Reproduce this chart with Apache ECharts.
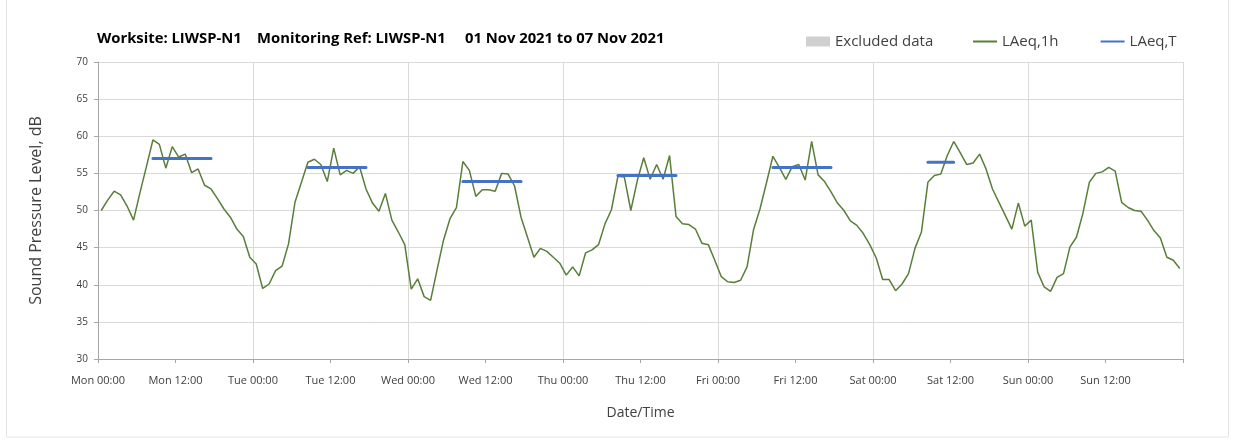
<!DOCTYPE html>
<html>
<head>
<meta charset="utf-8">
<script src="https://cdn.jsdelivr.net/npm/echarts@6/dist/echarts.min.js"></script>
<style>
  html, body { margin: 0; padding: 0; background: #fff; }
  #chart { width: 1234px; height: 441px; }
</style>
</head>
<body>
<div id="chart"></div>
<script>
// hourly LAeq,1h readings, Mon 00:00 .. Sun 23:00 (one per hour, plotted mid-hour)
const dayNames = ['Mon', 'Tue', 'Wed', 'Thu', 'Fri', 'Sat', 'Sun'];
const laeq1h = [
  // Mon
  50.0, 51.4, 52.6, 52.1, 50.6, 48.7, 52.4, 55.9, 59.5, 58.9, 55.7, 58.6,
  57.2, 57.6, 55.1, 55.6, 53.4, 52.9, 51.6, 50.2, 49.1, 47.5, 46.5, 43.7,
  // Tue
  42.8, 39.5, 40.1, 41.9, 42.5, 45.5, 51.1, 53.8, 56.5, 56.9, 56.2, 53.9,
  58.4, 54.8, 55.4, 55.0, 55.9, 52.9, 51.0, 49.9, 52.3, 48.7, 47.1, 45.4,
  // Wed
  39.4, 40.8, 38.4, 37.9, 42.0, 46.0, 48.9, 50.4, 56.6, 55.4, 51.9, 52.8,
  52.8, 52.6, 55.0, 54.9, 53.3, 49.1, 46.4, 43.7, 44.9, 44.5, 43.7, 42.9,
  // Thu
  41.3, 42.4, 41.2, 44.3, 44.7, 45.4, 48.2, 50.1, 54.6, 54.5, 50.0, 54.0,
  57.1, 54.2, 56.2, 54.2, 57.4, 49.2, 48.2, 48.1, 47.5, 45.6, 45.4, 43.3,
  // Fri
  41.1, 40.4, 40.3, 40.6, 42.4, 47.4, 50.2, 53.7, 57.3, 55.8, 54.2, 55.9,
  56.2, 54.1, 59.3, 54.8, 53.9, 52.5, 51.0, 50.0, 48.6, 48.0, 46.9, 45.4,
  // Sat
  43.6, 40.7, 40.7, 39.2, 40.1, 41.5, 44.9, 47.1, 53.8, 54.7, 54.9, 57.4,
  59.3, 57.8, 56.2, 56.4, 57.6, 55.6, 52.9, 51.1, 49.3, 47.5, 51.0, 47.9,
  // Sun
  48.7, 41.7, 39.7, 39.1, 41.0, 41.5, 45.1, 46.4, 49.6, 53.8, 55.0, 55.2,
  55.8, 55.3, 51.1, 50.4, 50.0, 49.9, 48.7, 47.3, 46.3, 43.7, 43.3, 42.2
];

// LAeq,T daytime periods: day index, first and last hour, level
const periodDay = [0, 1, 2, 3, 4, 5];
const periodStart = [8, 8, 8, 8, 8, 8];
const periodEnd = [17, 17, 17, 17, 17, 12];
const periodLevel = [57.0, 55.8, 53.9, 54.7, 55.8, 56.5];

const hourlyData = laeq1h.map((v, i) => [i + 0.5, v]);

const periodData = [];
periodDay.forEach((d, p) => {
  for (let h = periodStart[p]; h <= periodEnd[p]; h++) {
    periodData.push([d * 24 + h + 0.5, periodLevel[p]]);
  }
  periodData.push(null);
});

const chart = echarts.init(document.getElementById('chart'), null, { renderer: 'canvas' });

const axisGrey = '#a6a6a6';
const gridGrey = '#d9d9d9';
const textGrey = '#404040';
const font = '"Open Sans", sans-serif';
const green = '#5a7d3a';
const blue = '#4472c4';

chart.setOption({
  animation: false,
  textStyle: { fontFamily: font },
  graphic: [{
    type: 'rect',
    shape: { x: 6.5, y: -1, width: 1222, height: 438 },
    style: { fill: 'none', stroke: '#e4e4e4', lineWidth: 1 },
    silent: true
  }],
  title: {
    text: 'Worksite: LIWSP-N1    Monitoring Ref: LIWSP-N1     01 Nov 2021 to 07 Nov 2021',
    left: 92,
    top: 26,
    textStyle: { fontSize: 14.8, fontWeight: 'bold', color: '#000', fontFamily: font }
  },
  legend: [
    {
      left: 801,
      top: 29,
      itemWidth: 24,
      itemHeight: 10,
      textStyle: { fontSize: 15, color: textGrey, fontFamily: font },
      data: [{ name: 'Excluded data', icon: 'rect' }]
    },
    {
      left: 968,
      top: 29,
      itemGap: 42,
      itemWidth: 24,
      itemHeight: 2,
      textStyle: { fontSize: 15, color: textGrey, fontFamily: font },
      data: [
        { name: 'LAeq,1h', icon: 'rect', itemStyle: { color: green } },
        { name: 'LAeq,T', icon: 'rect', itemStyle: { color: blue } }
      ]
    }
  ],
  grid: { left: 98, right: 51, top: 62, bottom: 82 },
  xAxis: {
    type: 'value',
    min: 0,
    max: 168,
    interval: 12,
    name: 'Date/Time',
    nameLocation: 'middle',
    nameGap: 47,
    nameTextStyle: { fontSize: 14, color: textGrey },
    axisLine: { show: true, lineStyle: { color: axisGrey, width: 1 } },
    axisTick: { show: true, length: 4, lineStyle: { color: axisGrey } },
    axisLabel: {
      color: textGrey,
      fontSize: 11,
      margin: 16,
      formatter: (v) => {
        if (v >= 168) return '';
        return dayNames[Math.floor(v / 24)] + (v % 24 === 0 ? ' 00:00' : ' 12:00');
      }
    },
    splitLine: { show: true, lineStyle: { color: [gridGrey, 'rgba(0,0,0,0)'], width: 1 } }
  },
  yAxis: {
    type: 'value',
    min: 30,
    max: 70,
    interval: 5,
    name: 'Sound Pressure Level, dB',
    nameLocation: 'middle',
    nameGap: 54,
    nameTextStyle: { fontSize: 16, color: textGrey },
    axisLine: { show: true, lineStyle: { color: axisGrey, width: 1 } },
    axisTick: { show: true, length: 4, lineStyle: { color: axisGrey } },
    axisLabel: { color: textGrey, fontSize: 10, margin: 10 },
    splitLine: { show: true, lineStyle: { color: gridGrey, width: 1 } }
  },
  series: [
    {
      name: 'Excluded data',
      type: 'bar',
      data: [],
      itemStyle: { color: '#d0d0d0' }
    },
    {
      name: 'LAeq,1h',
      type: 'line',
      data: hourlyData,
      symbol: 'none',
      lineStyle: { color: green, width: 1.5 },
      itemStyle: { color: green },
      z: 3
    },
    {
      name: 'LAeq,T',
      type: 'line',
      data: periodData,
      connectNulls: false,
      symbol: 'none',
      lineStyle: { color: blue, width: 3, cap: 'round' },
      itemStyle: { color: blue },
      z: 4
    }
  ]
});
</script>
</body>
</html>
